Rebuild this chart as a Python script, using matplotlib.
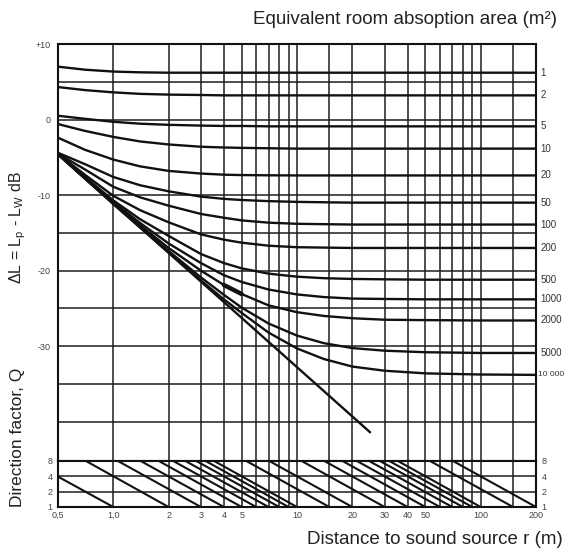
import matplotlib.pyplot as plt
from matplotlib.ticker import NullLocator, FixedLocator
from matplotlib.transforms import blended_transform_factory

plt.rcParams['font.family'] = ['Liberation Sans', 'DejaVu Sans']
plt.rcParams['mathtext.fontset'] = 'custom'
plt.rcParams['mathtext.rm'] = 'Liberation Sans'
plt.rcParams['mathtext.it'] = 'Liberation Sans:italic'

r_read = [0.5, 0.7, 1, 1.4, 2, 3, 4, 5, 7, 10, 14, 20, 30, 50, 100, 200]

# equivalent absorption area labels (m2) and the read levels dL (dB)
area_labels = ['1', '2', '5', '10', '20', '50', '100', '200', '500',
               '1000', '2000', '5000', '10 000']
dl_1 = [7.0, 6.6, 6.35, 6.25, 6.2, 6.2, 6.2, 6.2, 6.2, 6.2, 6.2, 6.2, 6.2, 6.2, 6.2, 6.2]
dl_2 = [4.3, 3.9, 3.6, 3.4, 3.3, 3.25, 3.2, 3.2, 3.2, 3.2, 3.2, 3.2, 3.2, 3.2, 3.2, 3.2]
dl_5 = [0.5, 0.1, -0.3, -0.55, -0.7, -0.8, -0.85, -0.85, -0.9, -0.9, -0.9, -0.9, -0.9, -0.9, -0.9, -0.9]
dl_10 = [-0.6, -1.5, -2.3, -2.9, -3.3, -3.6, -3.7, -3.75, -3.8, -3.85, -3.85, -3.85, -3.85, -3.85, -3.85, -3.85]
dl_20 = [-2.4, -4.0, -5.3, -6.2, -6.8, -7.15, -7.3, -7.35, -7.38, -7.4, -7.4, -7.4, -7.4, -7.4, -7.4, -7.4]
dl_50 = [-4.4, -5.9, -7.6, -8.7, -9.5, -10.2, -10.5, -10.65, -10.8, -10.9, -10.95, -11.0, -11.0, -11.0, -11.0, -11.0]
dl_100 = [-4.5, -6.6, -8.9, -10.3, -11.4, -12.5, -13.0, -13.35, -13.65, -13.8, -13.85, -13.9, -13.9, -13.9, -13.9, -13.9]
dl_200 = [-4.55, -7.3, -10.1, -12.0, -13.6, -15.2, -15.9, -16.3, -16.7, -16.9, -16.95, -17.0, -17.0, -17.0, -17.0, -17.0]
dl_500 = [-4.55, -7.6, -10.7, -13.2, -15.4, -17.8, -19.0, -19.7, -20.4, -20.8, -21.0, -21.1, -21.15, -21.2, -21.2, -21.2]
dl_1000 = [-4.55, -7.7, -10.9, -13.7, -16.4, -19.0, -20.6, -21.5, -22.5, -23.15, -23.5, -23.7, -23.75, -23.8, -23.8, -23.8]
dl_2000 = [-4.6, -7.75, -11.0, -14.0, -17.0, -20.0, -21.9, -23.1, -24.6, -25.5, -26.0, -26.3, -26.5, -26.55, -26.6, -26.6]
dl_5000 = [-4.6, -7.8, -11.1, -14.2, -17.4, -20.9, -23.2, -24.9, -27.0, -28.6, -29.6, -30.25, -30.6, -30.8, -30.9, -30.9]
dl_10000 = [-4.6, -7.8, -11.2, -14.3, -17.6, -21.3, -23.8, -25.6, -28.2, -30.3, -31.7, -32.7, -33.25, -33.6, -33.75, -33.8]
curves = [dl_1, dl_2, dl_5, dl_10, dl_20, dl_50, dl_100, dl_200, dl_500,
          dl_1000, dl_2000, dl_5000, dl_10000]

# direct field line (end points)
direct_r = [0.5, 25]
direct_dl = [-4.6, -41.4]

# short heavy pen stroke on the 2000 m2 curve (between 4 m and 5 m)
stroke_from, stroke_to = 6, 8

# grid of the chart
r_grid = [1, 2, 3, 4, 5, 6, 7, 8, 9, 10, 15, 20, 30, 40, 50, 60, 70, 80, 90, 100, 150]
dl_grid = [5, 0, -10, -15, -20, -25, -30, -35, -40]
dl_ticks = [10, 0, -10, -20, -30]
dl_ticklabels = ['+10', '0', '-10', '-20', '-30']
r_ticks = [0.5, 1, 2, 3, 4, 5, 10, 20, 30, 40, 50, 100, 200]
r_ticklabels = ['0,5', '1,0', '2', '3', '4', '5', '10', '20', '30', '40', '50', '100', '200']

# direction factor nomogram: each line runs from Q=8 to Q=1
q_values = [1, 2, 4, 8]
q_line_r_top = [0.35, 0.71, 1.06, 1.41, 1.77, 2.12, 2.47, 2.83, 3.18, 3.54, 5.3,
                7.07, 10.6, 14.1, 17.7, 21.2, 24.7, 28.3, 31.8, 35.4, 53, 70.7]
q_line_r_end = [1, 2, 3, 4, 5, 6, 7, 8, 9, 10, 15, 20, 30, 40, 50, 60, 70, 80, 90,
                100, 150, 200]

W, H = 567, 549
fig = plt.figure(figsize=(W / 100, H / 100), dpi=100)
ax = fig.add_axes([58 / W, 1 - 461 / H, 478 / W, 417 / H])
ax_q = fig.add_axes([58 / W, 1 - 507 / H, 478 / W, 46 / H], sharex=ax)

ink = '#111111'
grid_kw = dict(color='#1e1e1e', lw=1.1, zorder=1)

ax.set_xscale('log')
ax.set_xlim(0.5, 200)
ax.set_ylim(-45.2, 10)
for r in r_grid:
    ax.axvline(r, **grid_kw)
    ax_q.axvline(r, **grid_kw)
for d in dl_grid:
    ax.axhline(d, **grid_kw)

for vals in curves:
    ax.plot(r_read, vals, color=ink, lw=1.7, solid_capstyle='round', zorder=3)
ax.plot(direct_r, direct_dl, color=ink, lw=1.7, solid_capstyle='round', zorder=3)
ax.plot(r_read[stroke_from:stroke_to], dl_2000[stroke_from:stroke_to], color=ink,
        lw=3.2, solid_capstyle='round', zorder=4)

trans = blended_transform_factory(ax.transAxes, ax.transData)
for lab, vals in zip(area_labels, curves):
    long_lab = len(lab) > 4
    ax.text(1.005 if long_lab else 1.01, vals[-1], lab, transform=trans,
            fontsize=6 if long_lab else 7, color='#333333', va='center', ha='left')

ax.set_yticks(dl_ticks)
ax.set_yticklabels(dl_ticklabels)
ax.xaxis.set_minor_locator(NullLocator())
ax.tick_params(axis='both', length=0, labelsize=6.5, labelcolor='#444444', pad=5)
ax.tick_params(axis='x', labelbottom=False)

ax_q.set_yscale('log', base=2)
ax_q.set_ylim(1, 8)
for q in q_values[1:-1]:
    ax_q.axhline(q, **grid_kw)
for rt, re in zip(q_line_r_top, q_line_r_end):
    ax_q.plot([rt, re], [8, 1], color=ink, lw=1.5, zorder=3)
ax_q.yaxis.set_major_locator(FixedLocator(q_values))
ax_q.yaxis.set_minor_locator(NullLocator())
ax_q.set_yticklabels([str(q) for q in q_values])
ax_q.xaxis.set_major_locator(FixedLocator(r_ticks))
ax_q.xaxis.set_minor_locator(NullLocator())
ax_q.set_xticklabels(r_ticklabels)
ax_q.tick_params(axis='both', length=0, labelsize=6.5, labelcolor='#444444', pad=3)
ax_q.tick_params(axis='y', labelright=True, pad=4)

for a in (ax, ax_q):
    for s in a.spines.values():
        s.set_linewidth(1.5)
        s.set_color(ink)

fig.text(557 / W, 1 - 20 / H, 'Equivalent room absoption area (m²)', ha='right',
         va='center', fontsize=13.5, color='#222222')
fig.text(563 / W, 1 - 540 / H, 'Distance to sound source r (m)', ha='right',
         va='center', fontsize=13.5, color='#222222')
fig.text(18 / W, 1 - 228 / H, r'$\Delta$L = L$_\mathrm{p}$ - L$_\mathrm{W}$ dB',
         rotation=90, ha='center', va='center', fontsize=11.5, color='#222222')
fig.text(18 / W, 1 - 437 / H, 'Direction factor, Q', rotation=90, ha='center',
         va='center', fontsize=12.5, color='#222222')

fig.savefig('out.png', dpi=100)
